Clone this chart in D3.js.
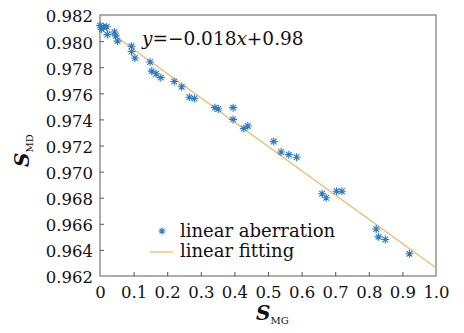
<!DOCTYPE html>
<html lang="en">
<head>
<meta charset="utf-8">
<style type="text/css">
    body { margin: 0; background: #fff; }
    text { font-family: "DejaVu Serif", serif; fill: #111; }
    .axis path { display: none; }
    .axis line { stroke: #555; }
</style>
</head>
<body>
<svg width="464" height="333"></svg>

<script src="https://d3js.org/d3.v7.min.js"></script>
<script type="text/javascript">
    // measured points (S_MG, S_MD)
    var smg = [0.000, 0.010, 0.020, 0.005, 0.022, 0.043, 0.047, 0.052, 0.094, 0.094, 0.104,
               0.149, 0.154, 0.167, 0.181, 0.221, 0.243, 0.266, 0.281, 0.342, 0.352, 0.396,
               0.396, 0.428, 0.440, 0.517, 0.539, 0.562, 0.585, 0.661, 0.673, 0.704, 0.720,
               0.822, 0.829, 0.849, 0.921];
    var smd = [0.9812, 0.9811, 0.9811, 0.9809, 0.9805, 0.9807, 0.9804, 0.9800, 0.9796, 0.9792, 0.9787,
               0.9784, 0.9777, 0.9775, 0.9772, 0.9769, 0.9765, 0.9757, 0.9756, 0.9749, 0.9748, 0.9749,
               0.9740, 0.9733, 0.9735, 0.9723, 0.9715, 0.9713, 0.9711, 0.9683, 0.9680, 0.9685, 0.9685,
               0.9656, 0.9650, 0.9648, 0.9637];
    var fitSlope = -0.0186, fitIntercept = 0.98124;
    var xTicks = [0, 0.1, 0.2, 0.3, 0.4, 0.5, 0.6, 0.7, 0.8, 0.9, 1.0];
    var xTickLabels = ["0", "0.1", "0.2", "0.3", "0.4", "0.5", "0.6", "0.7", "0.8", "0.9", "1.0"];
    var yTicks = [0.962, 0.964, 0.966, 0.968, 0.970, 0.972, 0.974, 0.976, 0.978, 0.980, 0.982];
    var legendLabels = ["linear aberration", "linear fitting"];

    var svg = d3.select("svg"),
        m = { left: 100, right: 436, top: 15, bottom: 276 },
        blue = "#2a7bc0", orange = "#efb764";

    var x = d3.scaleLinear().domain([0, 1]).range([m.left, m.right]);
    var y = d3.scaleLinear().domain([0.962, 0.982]).range([m.bottom, m.top]);

    // box
    svg.append("rect")
        .attr("x", m.left).attr("y", m.top)
        .attr("width", m.right - m.left).attr("height", m.bottom - m.top)
        .attr("fill", "none").attr("stroke", "#777").attr("stroke-width", 1.2);

    var xAxis = svg.append("g").attr("class", "axis")
        .attr("transform", "translate(0," + m.bottom + ")")
        .call(d3.axisBottom(x).tickValues(xTicks).tickSizeInner(-4).tickSizeOuter(0)
            .tickFormat(function (d, i) { return xTickLabels[i]; }));
    xAxis.selectAll("text").attr("y", 10).attr("dy", "0.71em").style("font-size", "16.5px");

    var yAxis = svg.append("g").attr("class", "axis")
        .attr("transform", "translate(" + m.left + ",0)")
        .call(d3.axisLeft(y).tickValues(yTicks).tickSizeInner(-4).tickSizeOuter(0)
            .tickFormat(d3.format(".3f")));
    yAxis.selectAll("text").attr("x", -7).attr("dy", "0.42em").style("font-size", "16.5px");

    svg.selectAll(".axis line").filter(function (d) { return d === 0 || d === 1 || d === 0.962 || d === 0.982; })
        .remove();

    // fit line
    svg.append("line")
        .attr("x1", x(0)).attr("y1", y(fitIntercept))
        .attr("x2", x(1)).attr("y2", y(fitIntercept + fitSlope))
        .attr("stroke", orange).attr("stroke-width", 1.2);

    function star(sel, r) {
        var a = r * 0.707;
        return sel.attr("d", "M" + (-r) + ",0H" + r + "M0," + (-r) + "V" + r +
                "M" + (-a) + "," + (-a) + "L" + a + "," + a + "M" + (-a) + "," + a + "L" + a + "," + (-a))
            .attr("fill", "none").attr("stroke", blue).attr("stroke-width", 1.1);
    }

    svg.selectAll(".pt")
        .data(smg.map(function (d, i) { return [d, smd[i]]; }))
        .enter().append("path")
        .attr("class", "pt")
        .attr("transform", function (d) { return "translate(" + x(d[0]) + "," + y(d[1]) + ")"; })
        .call(star, 4);

    // equation
    var eq = svg.append("text").attr("x", 142).attr("y", 45).style("font-size", "18.5px");
    eq.append("tspan").style("font-style", "italic").text("y");
    eq.append("tspan").text("=\u22120.018");
    eq.append("tspan").style("font-style", "italic").text("x");
    eq.append("tspan").text("+0.98");

    // legend
    svg.append("path").attr("transform", "translate(162,231)").call(star, 3.5);
    svg.append("line").attr("x1", 150).attr("x2", 173).attr("y1", 252).attr("y2", 252)
        .attr("stroke", orange).attr("stroke-width", 1.2);
    svg.selectAll(".leg").data(legendLabels).enter().append("text")
        .attr("class", "leg")
        .attr("x", 180).attr("y", function (d, i) { return 237 + i * 20; })
        .style("font-size", "18px")
        .text(function (d) { return d; });

    // axis titles
    var xt = svg.append("text").attr("x", 256).attr("y", 320);
    xt.append("tspan").style("font-size", "20px").style("font-style", "italic").style("font-weight", "bold").text("S");
    xt.append("tspan").attr("dy", 4).style("font-size", "10px").text("MG");

    var yt = svg.append("text").attr("transform", "translate(29,167) rotate(-90)");
    yt.append("tspan").style("font-size", "20px").style("font-style", "italic").style("font-weight", "bold").text("S");
    yt.append("tspan").attr("dy", 4).style("font-size", "10px").text("MD");
</script>
</body>
</html>
